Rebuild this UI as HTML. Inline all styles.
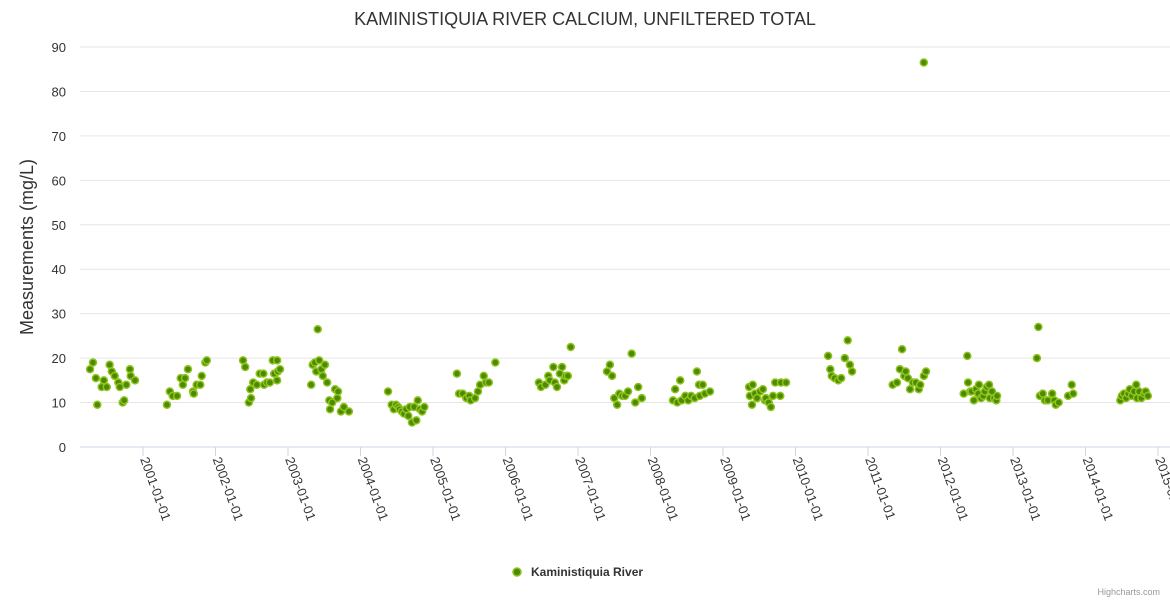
<!DOCTYPE html>
<html><head><meta charset="utf-8"><style>
body{margin:0;background:#fff;font-family:"Liberation Sans",sans-serif}
svg text{font-family:"Liberation Sans","DejaVu Sans",sans-serif}
</style></head><body>
<svg id="chart" width="1170" height="600" xmlns="http://www.w3.org/2000/svg">
<rect width="1170" height="600" fill="#fff"/>
<text x="585" y="25" text-anchor="middle" font-size="18" fill="#333">KAMINISTIQUIA RIVER CALCIUM, UNFILTERED TOTAL</text>
<g id="grid"></g><g id="xaxis"></g><g id="yaxis"></g><g id="points"></g>
<text transform="translate(33,247) rotate(-90)" text-anchor="middle" font-size="18" fill="#333">Measurements (mg/L)</text>
<g>
<circle cx="517" cy="572" r="4" fill="#4c8a00" stroke="#8fc31f" stroke-width="1.5"/>
<text x="531" y="576" font-size="12" font-weight="bold" fill="#333">Kaministiquia River</text>
</g>
<text x="1160" y="595" text-anchor="end" font-size="9" fill="#999">Highcharts.com</text>
</svg>
<script>
const yTicks=[0,10,20,30,40,50,60,70,80,90];
const xTickYears=[2001,2002,2003,2004,2005,2006,2007,2008,2009,2010,2011,2012,2013,2014,2015];
const xTickLabels=["2001-01-01","2002-01-01","2003-01-01","2004-01-01","2005-01-01","2006-01-01","2007-01-01","2008-01-01","2009-01-01","2010-01-01","2011-01-01","2012-01-01","2013-01-01","2014-01-01","2015-01-01"];
const dates=[2000.27,2000.31,2000.35,2000.37,2000.43,2000.46,2000.50,2000.54,2000.57,2000.61,2000.66,2000.68,2000.72,2000.74,2000.77,2000.82,2000.83,2000.89,
2001.33,2001.37,2001.41,2001.47,2001.52,2001.55,2001.58,2001.62,2001.69,2001.70,2001.74,2001.79,2001.81,2001.86,2001.88,
2002.38,2002.41,2002.46,2002.48,2002.49,2002.52,2002.57,2002.61,2002.66,2002.67,2002.71,2002.75,2002.79,2002.81,2002.85,2002.85,2002.86,2002.89,
2003.32,2003.34,2003.37,2003.39,2003.41,2003.43,2003.46,2003.48,2003.51,2003.54,2003.57,2003.58,2003.61,2003.65,2003.68,2003.69,2003.73,2003.77,2003.84,
2004.38,2004.43,2004.46,2004.49,2004.52,2004.54,2004.57,2004.60,2004.63,2004.66,2004.68,2004.71,2004.74,2004.77,2004.79,2004.82,2004.85,2004.88,
2005.33,2005.36,2005.41,2005.46,2005.50,2005.52,2005.58,2005.62,2005.65,2005.70,2005.73,2005.77,2005.86,
2006.46,2006.49,2006.55,2006.59,2006.61,2006.66,2006.68,2006.71,2006.75,2006.78,2006.81,2006.83,2006.86,2006.90,
2007.40,2007.44,2007.47,2007.50,2007.54,2007.57,2007.61,2007.65,2007.69,2007.74,2007.79,2007.83,2007.88,
2008.31,2008.34,2008.37,2008.41,2008.43,2008.48,2008.52,2008.56,2008.61,2008.64,2008.67,2008.68,2008.72,2008.75,2008.82,
2009.36,2009.37,2009.40,2009.41,2009.44,2009.47,2009.51,2009.55,2009.58,2009.59,2009.63,2009.66,2009.69,2009.72,2009.79,2009.80,2009.87,
2010.45,2010.48,2010.50,2010.54,2010.59,2010.63,2010.68,2010.72,2010.75,2010.78,
2011.34,2011.40,2011.44,2011.47,2011.50,2011.52,2011.55,2011.58,2011.62,2011.66,2011.70,2011.72,2011.77,2011.77,2011.80,
2012.32,2012.37,2012.38,2012.41,2012.43,2012.46,2012.49,2012.52,2012.53,2012.56,2012.59,2012.61,2012.64,2012.67,2012.68,2012.71,2012.74,2012.77,2012.78,
2013.33,2013.35,2013.37,2013.41,2013.44,2013.48,2013.54,2013.57,2013.59,2013.63,2013.76,2013.81,2013.83,
2014.48,2014.50,2014.53,2014.56,2014.59,2014.61,2014.64,2014.67,2014.70,2014.71,2014.74,2014.77,2014.81,2014.83,2014.86];
const values=[17.5,19,15.5,9.5,13.5,15,13.5,18.5,17,16,14.5,13.5,10,10.5,14,17.5,16,15,
9.5,12.5,11.5,11.5,15.5,14,15.5,17.5,12.5,12,14,14,16,19,19.5,
19.5,18,10,13,11,14.5,14,16.5,16.5,14,14.5,14.5,19.5,16.5,19.5,15,17,17.5,
14,18.5,19,17,26.5,19.5,17.5,16,18.5,14.5,10.5,8.5,10,13,11,12.5,8,9,8,
12.5,9.5,8.5,9.5,9,8.5,8,7.5,8.5,7,9,5.5,9,6,10.5,8.5,8,9,
16.5,12,12,11,11.5,10.5,11,12.5,14,16,14.5,14.5,19,
14.5,13.5,14,16,15,18,14.5,13.5,16.5,18,15,16,16,22.5,
17,18.5,16,11,9.5,12,11.5,11.5,12.5,21,10,13.5,11,
10.5,13,10,15,10.5,11.5,10.5,11.5,11,17,14,11.5,14,12,12.5,
13.5,11.5,9.5,14,12,11,12.5,13,10.5,11,10,9,11.5,14.5,11.5,14.5,14.5,
20.5,17.5,16,15.5,15,15.5,20,24,18.5,17,
14,14.5,17.5,22,16,17,15.5,13,14.5,14.5,13,14,86.5,16,17,
12,20.5,14.5,12.5,12.5,10.5,13,12,14,11,11.5,12.5,13.5,14,11,12.5,11,10.5,11.5,
20,27,11.5,12,10.5,10.5,12,10.5,9.5,10,11.5,14,12,
10.5,11.5,12,11,12,13,11.5,12.5,14,11,12.5,11,12,12.5,11.5];
const NS="http://www.w3.org/2000/svg";
const X0=80,X1=1170,Y0=447,Y90=47;
function xs(y){return 143+(y-2001)*72.5;}
function ys(v){return Y0-(v/90)*(Y0-Y90);}
function mk(t,a,p){const e=document.createElementNS(NS,t);for(const k in a)e.setAttribute(k,a[k]);p.appendChild(e);return e;}
const grid=document.getElementById('grid'),ya=document.getElementById('yaxis'),xa=document.getElementById('xaxis'),pts=document.getElementById('points');
yTicks.forEach(v=>{
 const l=mk('line',{x1:X0,x2:X1,y1:ys(v),y2:ys(v),stroke:v===0?'#ccd6eb':'#e6e6e6','stroke-width':1},grid);
 
 
 const t=mk('text',{x:66,y:ys(v)+5,'text-anchor':'end','font-size':13,fill:'#333'},ya);
 t.textContent=v;
 
 
});
xTickYears.forEach((yr,i)=>{
 const x=xs(yr);
 const l=mk('line',{x1:x,x2:x,y1:Y0,y2:Y0+9,stroke:'#ccd6eb'},xa);
 
 
 const t=mk('text',{transform:`translate(${x-3},${Y0+12}) rotate(70)`,'font-size':13,fill:'#333'},xa);
 t.textContent=xTickLabels[i];
 
 
});
dates.forEach((d,i)=>{
 const c=mk('circle',{cx:xs(d),cy:ys(values[i]),r:3.5,fill:'#4c8a00',stroke:'#8fc31f','stroke-width':1.5},pts);
 
 
});
</script>
</body></html>
